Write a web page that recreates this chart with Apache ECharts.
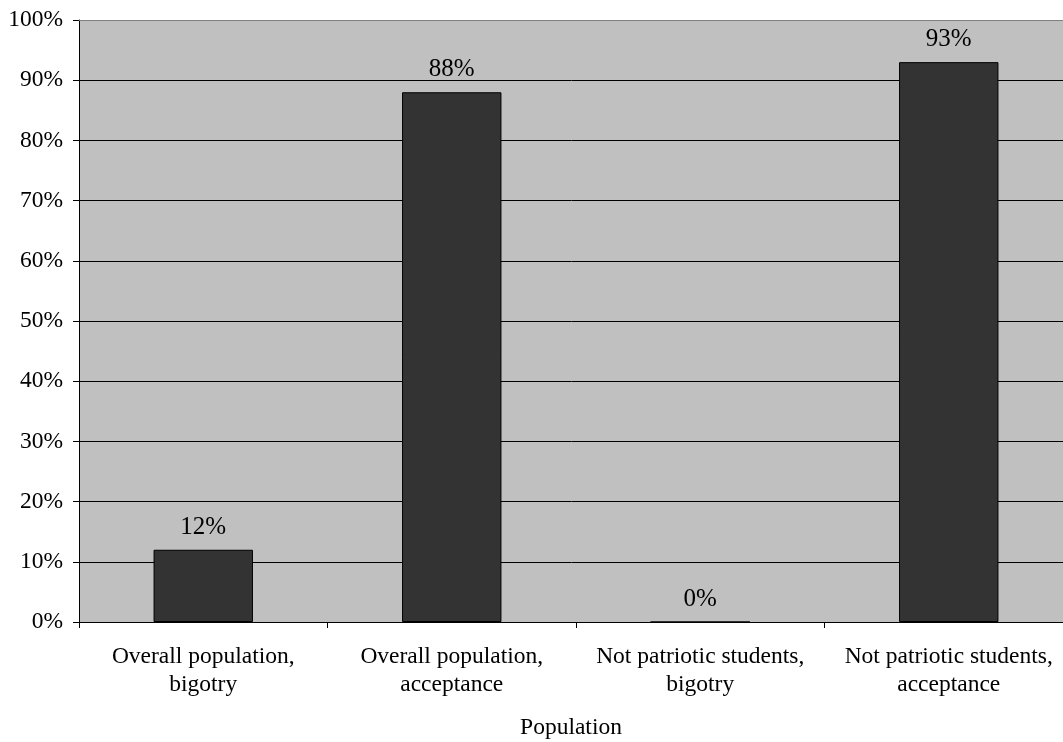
<!DOCTYPE html>
<html>
<head>
<meta charset="utf-8">
<script src="https://cdn.jsdelivr.net/npm/echarts@6/dist/echarts.min.js"></script>
<style>
  html, body { margin: 0; padding: 0; background: #ffffff; }
  #chart { width: 1063px; height: 742px; }
</style>
</head>
<body>
<div id="chart"></div>
<script>
// Share of responses per population group
const categories = [
  'Overall population,\nbigotry',
  'Overall population,\nacceptance',
  'Not patriotic students,\nbigotry',
  'Not patriotic students,\nacceptance'
];
const values = [12, 88, 0, 93];
const yTicks = [0, 10, 20, 30, 40, 50, 60, 70, 80, 90, 100];

const FONT = '"Liberation Serif", "Times New Roman", serif';

const chart = echarts.init(document.getElementById('chart'));
chart.setOption({
  animation: false,
  backgroundColor: '#ffffff',
  grid: {
    left: 79, top: 20, width: 994, height: 602,
    outerBoundsMode: 'none',
    containLabel: false,
    show: true,
    backgroundColor: '#c0c0c0',
    borderWidth: 0
  },
  xAxis: {
    type: 'category',
    data: categories,
    name: 'Population',
    nameLocation: 'middle',
    nameGap: 94,
    nameTextStyle: { fontFamily: FONT, fontSize: 23.5, color: '#000', padding: [0, 10, 0, 0] },
    axisLine: { lineStyle: { color: '#000', width: 1 } },
    axisTick: { show: true, length: 6, lineStyle: { color: '#000' } },
    axisLabel: {
      fontFamily: FONT, fontSize: 23.5, color: '#000',
      margin: 21, lineHeight: 28, interval: 0
    },
    splitLine: { show: false }
  },
  yAxis: {
    type: 'value',
    min: yTicks[0],
    max: yTicks[yTicks.length - 1],
    interval: 10,
    axisLine: { show: true, lineStyle: { color: '#000', width: 1 } },
    axisTick: { show: true, length: 6, inside: false, lineStyle: { color: '#000' } },
    axisLabel: {
      fontFamily: FONT, fontSize: 23.5, color: '#000', margin: 16,
      formatter: v => v + '%'
    },
    splitLine: { show: true, lineStyle: { color: '#000', width: 1 } }
  },
  series: [{
    type: 'bar',
    data: values,
    barWidth: '40%',
    itemStyle: { color: '#333333', borderColor: '#000', borderWidth: 1 },
    label: {
      show: true,
      position: 'top',
      distance: 10,
      fontFamily: FONT, fontSize: 25, color: '#000',
      formatter: p => p.value + '%'
    }
  }],
  graphic: [{
    type: 'line',
    shape: { x1: 79, y1: 20.5, x2: 1063, y2: 20.5 },
    style: { stroke: '#808080', lineWidth: 1 },
    z: 10
  }]
});
</script>
</body>
</html>
